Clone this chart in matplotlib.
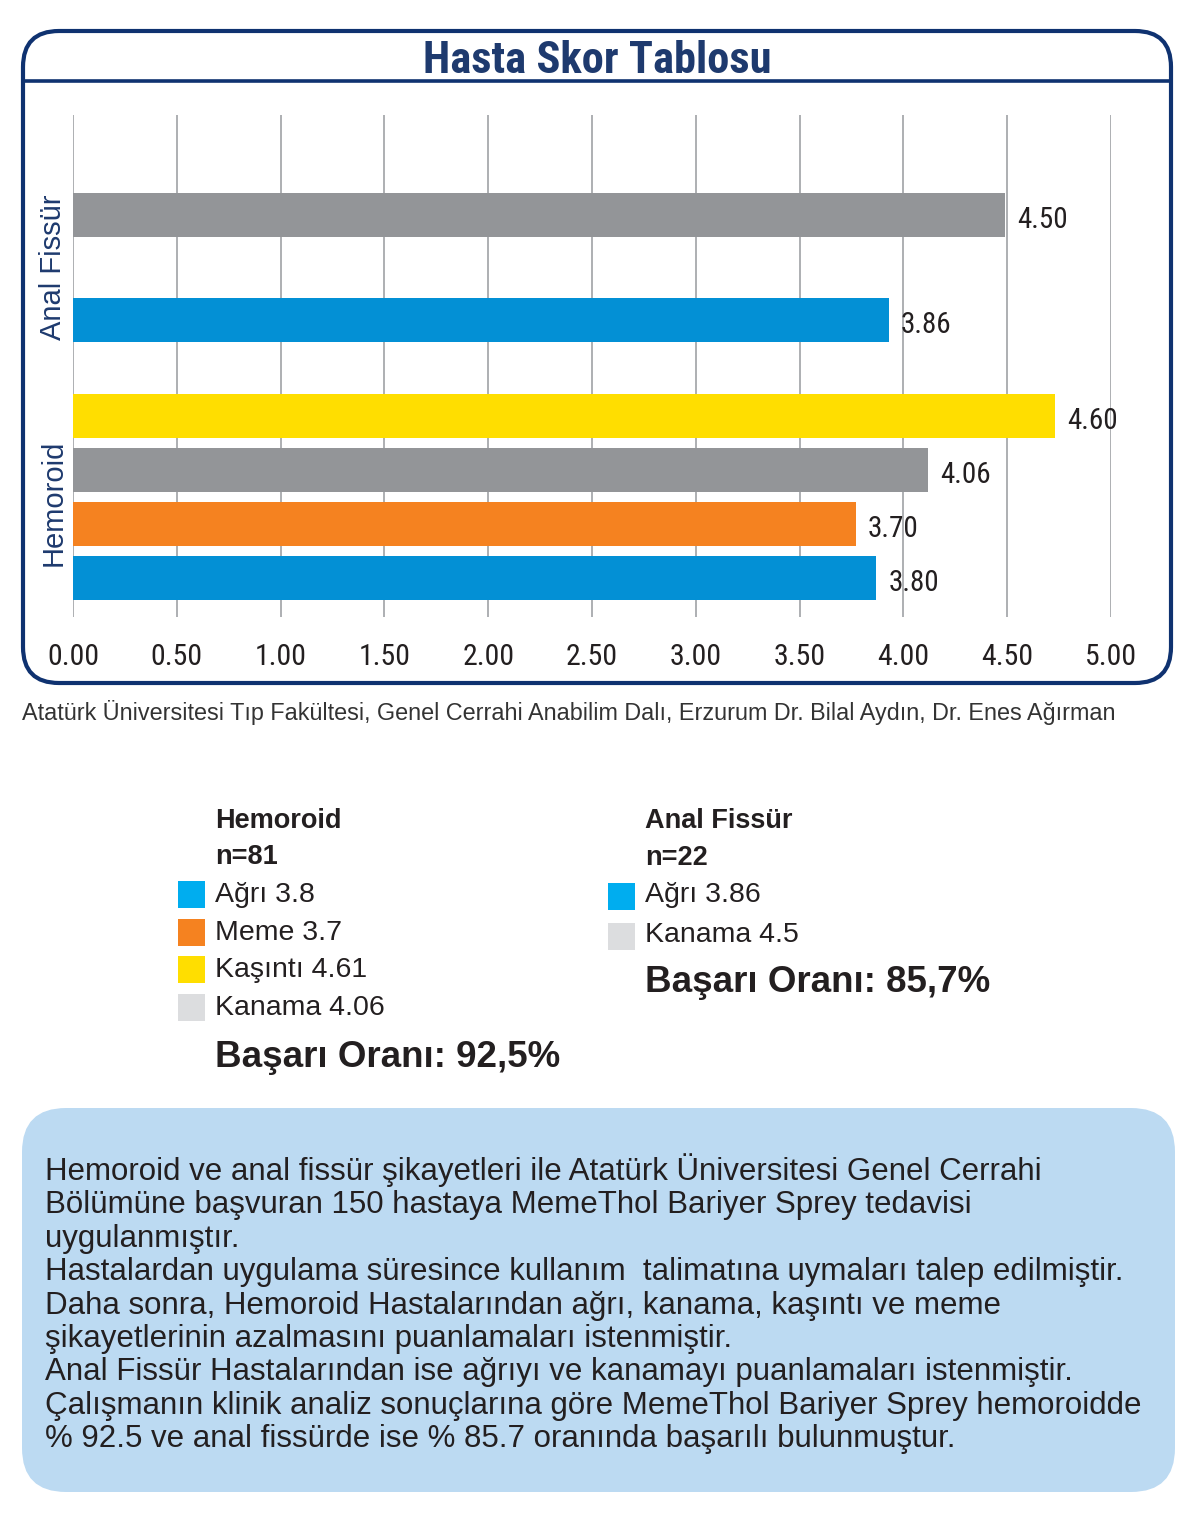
import matplotlib
matplotlib.use("Agg")
import matplotlib.pyplot as plt
from matplotlib import font_manager as fm
from matplotlib.patches import FancyBboxPatch, Rectangle
import numpy as np

# bar data (lengths, labels as printed)
hem_names = ["Ağrı", "Meme", "Kanama", "Kaşıntı"]
hem_values = [3.87, 3.77, 4.12, 4.73]
hem_labels = ["3.80", "3.70", "4.06", "4.60"]
anal_names = ["Ağrı", "Kanama"]
anal_values = [3.93, 4.49]
anal_labels = ["3.86", "4.50"]
groups = ["Hemoroid", "Anal Fissür"]
xticks = [0, 0.5, 1, 1.5, 2, 2.5, 3, 3.5, 4, 4.5, 5]

# legend blocks below the chart
hem_legend = ["Ağrı 3.8", "Meme 3.7", "Kaşıntı 4.61", "Kanama 4.06"]
anal_legend = ["Ağrı 3.86", "Kanama 4.5"]
hem_n = "n=81"
anal_n = "n=22"
hem_rate = "Başarı Oranı: 92,5%"
anal_rate = "Başarı Oranı: 85,7%"

title = "Hasta Skor Tablosu"
source = ("Atatürk Üniversitesi Tıp Fakültesi, Genel Cerrahi Anabilim Dalı, "
          "Erzurum Dr. Bilal Aydın, Dr. Enes Ağırman")
paragraph = [
    "Hemoroid ve anal fissür şikayetleri ile Atatürk Üniversitesi Genel Cerrahi",
    "Bölümüne başvuran 150 hastaya MemeThol Bariyer Sprey tedavisi",
    "uygulanmıştır.",
    "Hastalardan uygulama süresince kullanım  talimatına uymaları talep edilmiştir.",
    "Daha sonra, Hemoroid Hastalarından ağrı, kanama, kaşıntı ve meme",
    "şikayetlerinin azalmasını puanlamaları istenmiştir.",
    "Anal Fissür Hastalarından ise ağrıyı ve kanamayı puanlamaları istenmiştir.",
    "Çalışmanın klinik analiz sonuçlarına göre MemeThol Bariyer Sprey hemoroidde",
    "% 92.5 ve anal fissürde ise % 85.7 oranında başarılı bulunmuştur.",
]

BLUE = "#0390d5"
ORANGE = "#f58220"
YELLOW = "#ffde00"
GRAY = "#939598"
NAVY = "#0f3270"
TITLE_NAVY = "#1e3a6e"
TXT = "#231f20"
hem_colors = [BLUE, ORANGE, GRAY, YELLOW]
anal_colors = [BLUE, GRAY]
hem_sq = ["#00adef", ORANGE, YELLOW, "#dcdddf"]
anal_sq = ["#00adef", "#dcdddf"]

# pick a condensed face if one is installed
avail = {f.name for f in fm.fontManager.ttflist}
cond = next((n for n in ["Liberation Sans Narrow", "DejaVu Sans Condensed",
                         "Roboto Condensed", "Open Sans Condensed", "Noto Sans Condensed"]
             if n in avail), None)
SANS = ["Liberation Sans", "DejaVu Sans"]
NARROW = [cond, "DejaVu Sans"] if cond else SANS
k = 1.0 if cond else 0.88   # shrink plain sans when no narrow face exists

W, H = 1196, 1514
fig = plt.figure(figsize=(W / 100, H / 100), dpi=100)

# overlay axes in pixel coordinates for frames and text
bg = fig.add_axes([0, 0, 1, 1], zorder=0)
bg.set_xlim(0, W)
bg.set_ylim(H, 0)
bg.axis("off")

frame = FancyBboxPatch((23, 31), 1148, 652, boxstyle="round,pad=0,rounding_size=36",
                       fc="white", ec=NAVY, lw=3)
bg.add_patch(frame)
bg.plot([23, 1171], [81, 81], color=NAVY, lw=2.6)
bg.text(597, 73, title, ha="center", va="baseline", fontsize=32 * k, fontweight="bold",
        color=TITLE_NAVY, family=NARROW)
bg.text(22, 720, source, ha="left", va="baseline", fontsize=16.8, color="#333333",
        family=SANS)

# legend blocks
bg.text(215, 828, "Hemoroid", fontsize=19.5, fontweight="bold", color=TXT, family=SANS)
bg.text(215, 864, hem_n, fontsize=19.5, fontweight="bold", color=TXT, family=SANS)
for i, (lab, c) in enumerate(zip(hem_legend, hem_sq)):
    yb = 902 + i * 37.7
    bg.add_patch(Rectangle((178, yb - 21), 27, 27, fc=c, ec="none"))
    bg.text(215, yb, lab, fontsize=20.5, color=TXT, family=SANS)
bg.text(215, 1067, hem_rate, fontsize=26.5, fontweight="bold", color=TXT, family=SANS)

bg.text(645, 828, "Anal Fissür", fontsize=19.5, fontweight="bold", color=TXT, family=SANS)
bg.text(645, 865, anal_n, fontsize=19.5, fontweight="bold", color=TXT, family=SANS)
for i, (lab, c) in enumerate(zip(anal_legend, anal_sq)):
    yb = 902 + i * 39.5
    bg.add_patch(Rectangle((608, yb - 19), 27, 27, fc=c, ec="none"))
    bg.text(645, yb, lab, fontsize=20.5, color=TXT, family=SANS)
bg.text(645, 992, anal_rate, fontsize=26.5, fontweight="bold", color=TXT, family=SANS)

# info box
box = FancyBboxPatch((22, 1108), 1153, 384, boxstyle="round,pad=0,rounding_size=44",
                     fc="#bcdaf2", ec="none")
bg.add_patch(box)
for i, line in enumerate(paragraph):
    bg.text(45, 1180 + i * 33.4, line, fontsize=22.5, color=TXT, family=SANS)

# bar chart
ax = fig.add_axes([73 / W, 1 - 617 / H, 1038 / W, 502 / H], zorder=1)
ax.set_facecolor("none")
hem_pos = np.arange(len(hem_values))
anal_pos = np.array([4.77, 6.72])
bh = 0.815
ax.barh(hem_pos, hem_values, height=bh, color=hem_colors, zorder=3)
ax.barh(anal_pos, anal_values, height=bh, color=anal_colors, zorder=3)
for y, v, t in list(zip(hem_pos, hem_values, hem_labels)) + list(zip(anal_pos, anal_values, anal_labels)):
    ax.annotate(t, (v, y), xytext=(8.5, -3.5), textcoords="offset points", ha="left",
                va="center", fontsize=21 * k, color=TXT, family=NARROW)
ax.set_xlim(0, 5)
ax.set_ylim(-0.72, 8.57)
ax.set_xticks(xticks)
ax.set_xticklabels([f"{t:.2f}" for t in xticks], fontsize=21.5 * k, color=TXT, family=NARROW)
ax.set_yticks([hem_pos.mean() - 0.11, anal_pos.mean()])
ax.set_yticklabels(groups, rotation=90, va="center", fontsize=21, color=TITLE_NAVY,
                   family=SANS)
ax.tick_params(axis="x", length=0, pad=19)
ax.tick_params(axis="y", length=0, pad=4)
ax.grid(axis="x", color="#a7a9ac", lw=1.3, zorder=0)
for s in ax.spines.values():
    s.set_visible(False)

fig.savefig("out.png", dpi=100)
